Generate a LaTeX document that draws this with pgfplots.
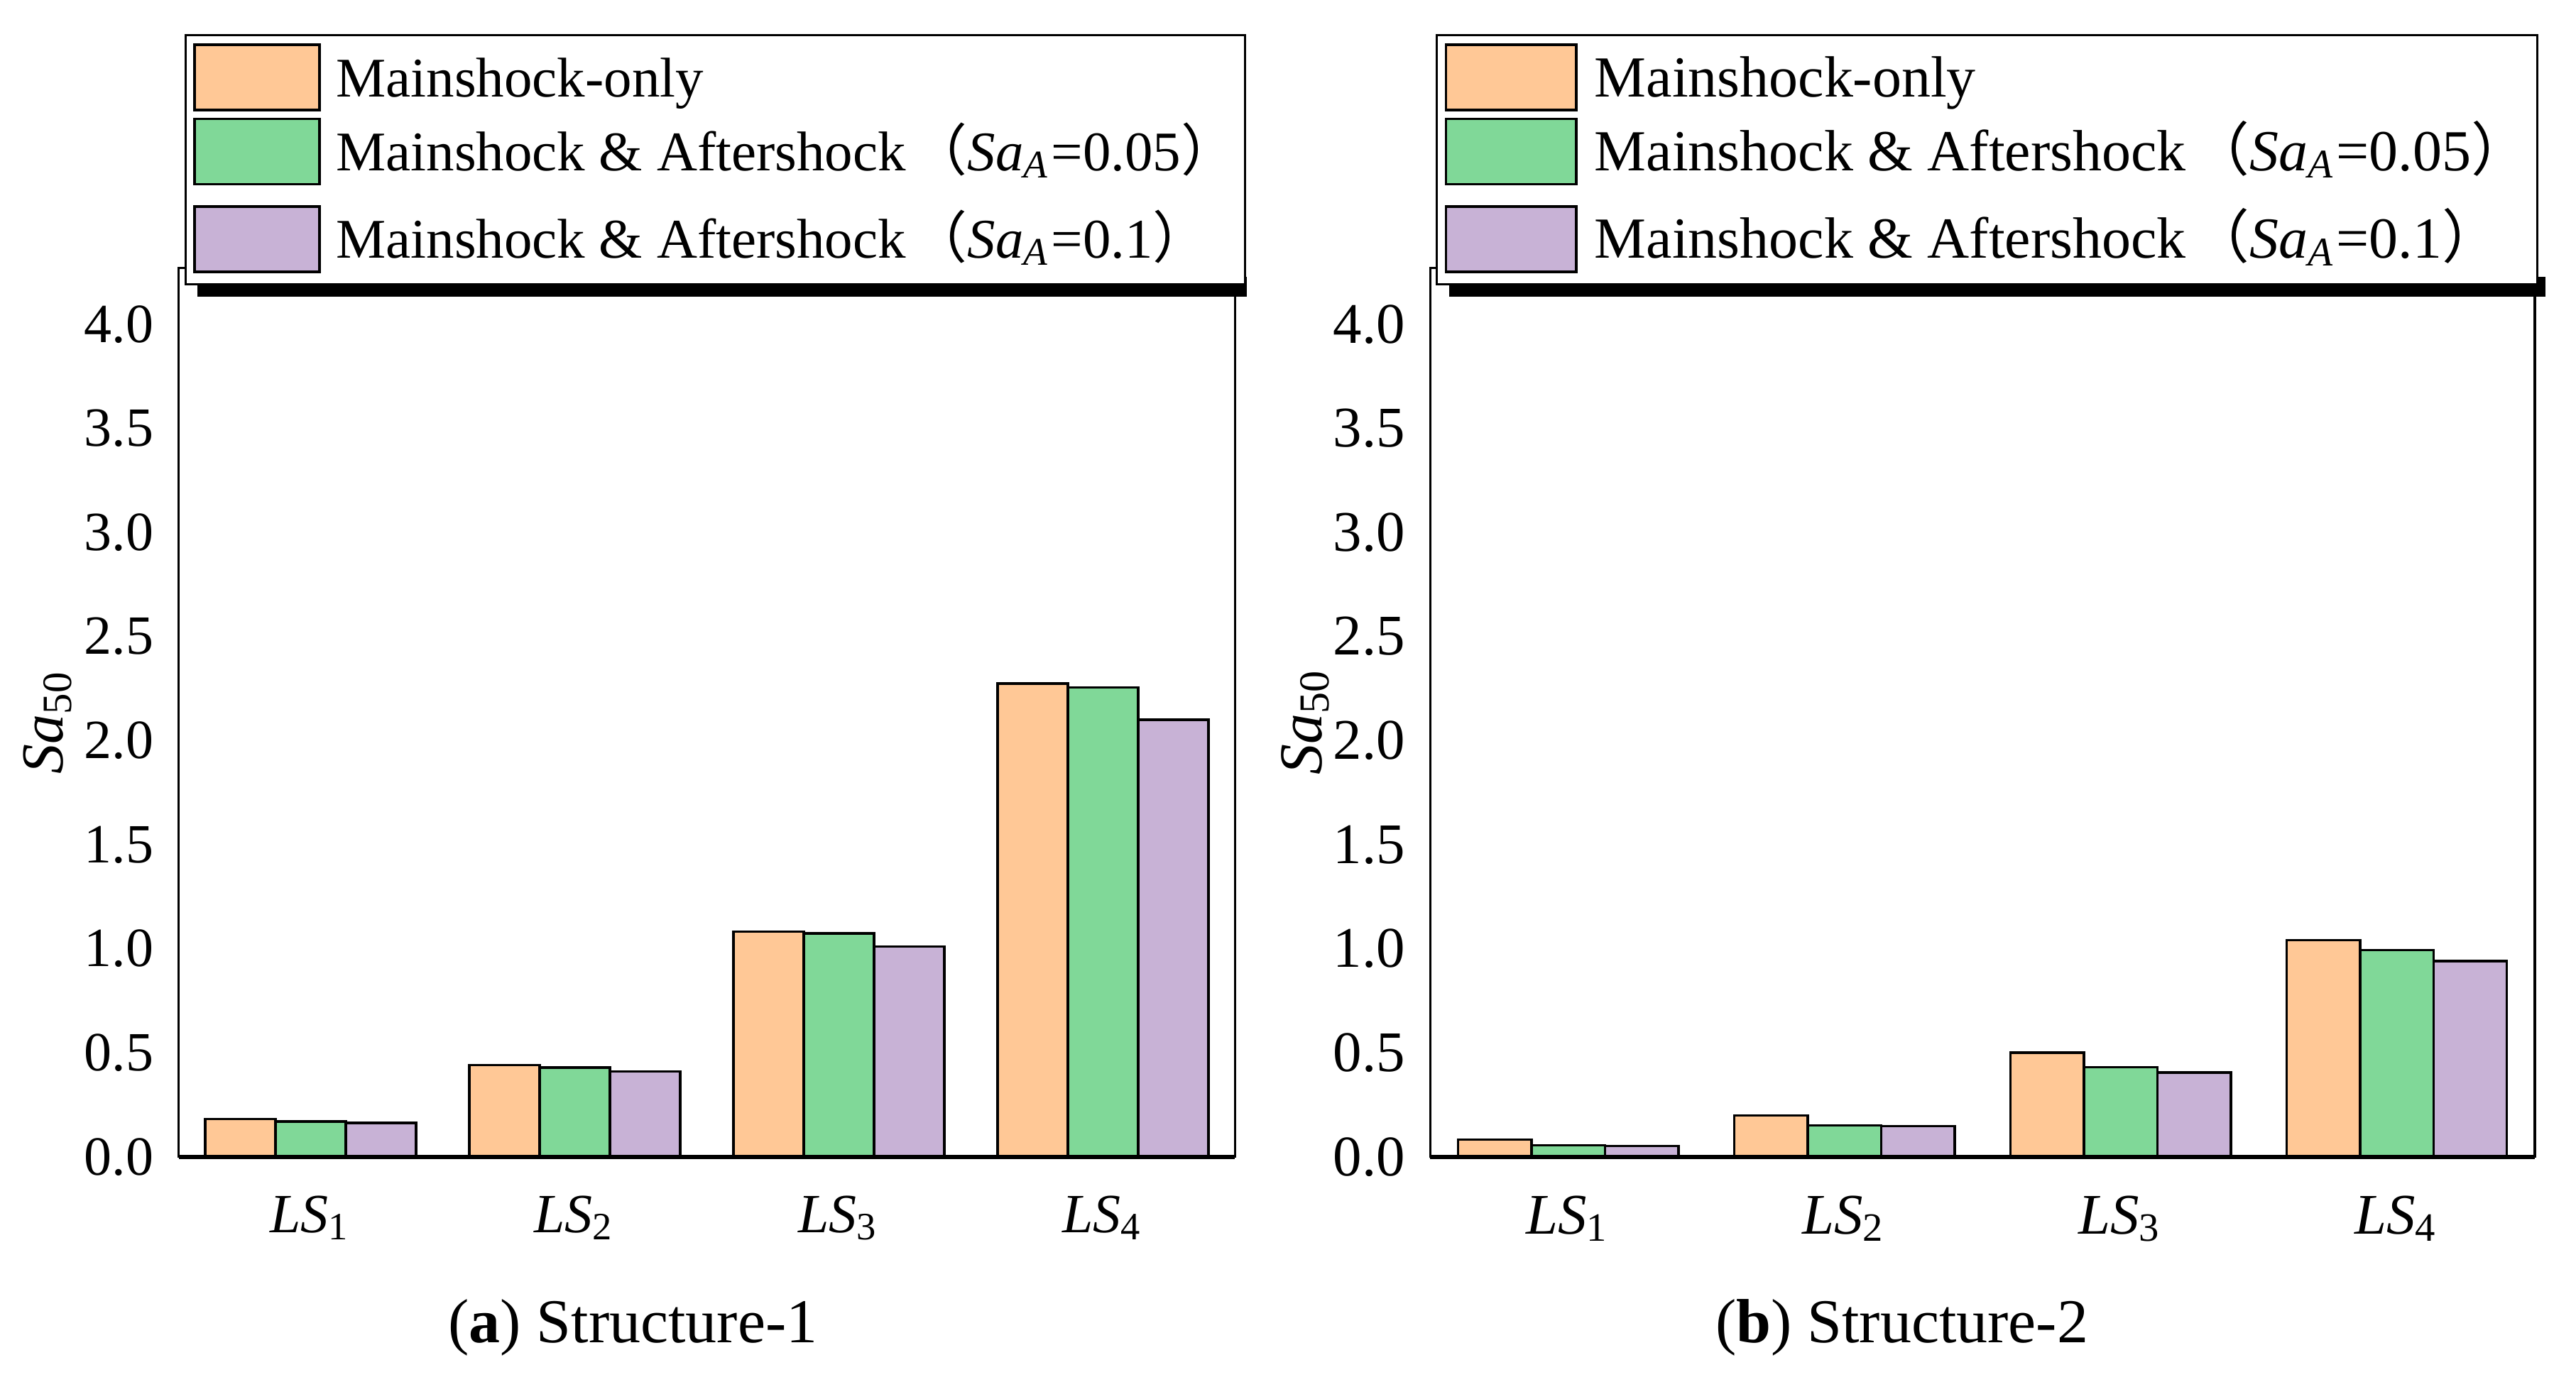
\documentclass[border=0pt]{standalone}
\usepackage{pgfplots}
\usepackage{pgfplotstable}
\pgfplotsset{compat=1.18}
\usepackage{fontspec}
\setmainfont{Liberation Serif}
\newfontfamily\cjk{Noto Sans CJK SC}

\definecolor{peach}{RGB}{255,200,150}
\definecolor{mint}{RGB}{128,216,152}
\definecolor{lilac}{RGB}{200,178,214}

% Sa50 values, Structure-1 and Structure-2
\pgfplotstableread{
x mo a005 a01
0 0.182 0.169 0.162
1 0.440 0.428 0.410
2 1.082 1.073 1.011
3 2.273 2.255 2.100
}\structA
\pgfplotstableread{
x mo a005 a01
0 0.082 0.055 0.052
1 0.198 0.150 0.148
2 0.501 0.430 0.405
3 1.041 0.993 0.941
}\structB

\pgfplotsset{
  panel/.style={
    scale only axis, anchor=south west,
    height=125.3pt,
    ymin=0, ymax=4.27,
    xmin=-0.5, xmax=3.5,
    ybar=0pt, bar width=0.266,
    xtick={0,1,2,3},
    xticklabels={\textit{LS}\textsubscript{1},\textit{LS}\textsubscript{2},\textit{LS}\textsubscript{3},\textit{LS}\textsubscript{4}},
    ytick={0,0.5,1,1.5,2,2.5,3,3.5,4},
    yticklabel style={/pgf/number format/.cd, fixed, fixed zerofill, precision=1, assume math mode=true},
    xticklabel style={yshift=-2pt},
    major tick length=0pt,
    axis line style={line width=0.35pt},
    ylabel={\textit{Sa}\textsubscript{50}},
    every axis plot/.append style={draw=black, line width=0.35pt},
    legend cell align=left,
    clip=false,
  },
  legbox/.style={
    at={(axis description cs:#1,1.2634)}, anchor=north west,
    draw=black, line width=0.3pt, fill=white,
    inner xsep=1.1pt, inner ysep=1.2pt,
    row sep=0.9pt, column sep=2.2pt,
    nodes={inner sep=0pt, text height=6.6pt, text depth=1.2pt},
  },
}

\begin{document}
\begin{tikzpicture}
\path (0,0) rectangle (362.8pt,194.8pt);

\begin{axis}[panel, at={(24.9pt,31.7pt)}, width=148.9pt,
  tick label style={font=\fontsize{7.8}{9}\selectfont},
  ylabel style={at={(axis description cs:-0.124,0.49)}, anchor=center, font=\fontsize{8.4}{10}\selectfont},
  legend image code/.code={\draw[line width=0.35pt] (0pt,-4.6pt) rectangle (17.6pt,4.6pt);},
  legend style={legbox=0.0054, font=\fontsize{7.9}{9.5}\selectfont},
]
\addplot[fill=peach] table[x=x, y=mo] {\structA};
\addplot[fill=mint] table[x=x, y=a005] {\structA};
\addplot[fill=lilac, legend image code/.code={\draw[line width=0.35pt] (0pt,-4.6pt) rectangle (17.6pt,4.6pt); \path (0pt,6.5pt) (0pt,-5.0pt);}] table[x=x, y=a01] {\structA};
\addlegendentry{Mainshock-only}
\addlegendentry{Mainshock \& Aftershock\hspace{0.8pt}{\cjk （}\textit{Sa}\textsubscript{\textit{A}}=0.05{\cjk ）}}
\addlegendentry{Mainshock \& Aftershock\hspace{0.8pt}{\cjk （}\textit{Sa}\textsubscript{\textit{A}}=0.1{\cjk ）}}
\draw[line width=0.6pt] (rel axis cs:0,0) -- (rel axis cs:1,0);
% legend shadow
\fill[black] (axis description cs:0.0175,0.968) rectangle (axis description cs:1.0114,0.99);
\node[anchor=base, font=\fontsize{8.8}{10}\selectfont] at (axis description cs:0.43,-0.209) {(\textbf{a}) Structure-1};
\end{axis}

\begin{axis}[panel, at={(201.3pt,31.7pt)}, width=155.7pt,
  tick label style={font=\fontsize{8.1}{9}\selectfont},
  ylabel style={at={(axis description cs:-0.113,0.49)}, anchor=center, font=\fontsize{8.6}{10}\selectfont},
  legend image code/.code={\draw[line width=0.35pt] (0pt,-4.6pt) rectangle (18.4pt,4.6pt);},
  legend style={legbox=0.005, font=\fontsize{8.2}{9.5}\selectfont, column sep=2.4pt},
]
\addplot[fill=peach] table[x=x, y=mo] {\structB};
\addplot[fill=mint] table[x=x, y=a005] {\structB};
\addplot[fill=lilac, legend image code/.code={\draw[line width=0.35pt] (0pt,-4.6pt) rectangle (18.4pt,4.6pt); \path (0pt,6.5pt) (0pt,-5.0pt);}] table[x=x, y=a01] {\structB};
\addlegendentry{Mainshock-only}
\addlegendentry{Mainshock \& Aftershock\hspace{0.8pt}{\cjk （}\textit{Sa}\textsubscript{\textit{A}}=0.05{\cjk ）}}
\addlegendentry{Mainshock \& Aftershock\hspace{0.8pt}{\cjk （}\textit{Sa}\textsubscript{\textit{A}}=0.1{\cjk ）}}
\draw[line width=0.6pt] (rel axis cs:0,0) -- (rel axis cs:1,0);
% legend shadow
\fill[black] (axis description cs:0.0173,0.968) rectangle (axis description cs:1.0096,0.99);
\node[anchor=base, font=\fontsize{8.8}{10}\selectfont] at (axis description cs:0.427,-0.209) {(\textbf{b}) Structure-2};
\end{axis}
\end{tikzpicture}
\end{document}
